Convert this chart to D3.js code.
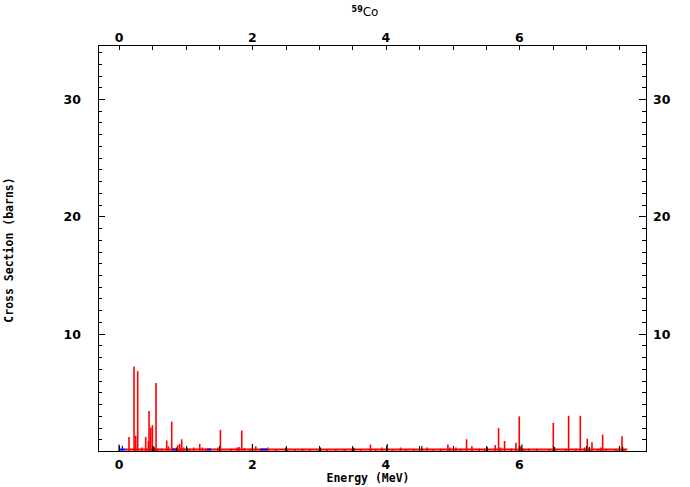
<!DOCTYPE html>
<html>
<head>
  <meta charset="UTF-8">
  <style>
    body { margin: 0; background: #fff; font-family: "DejaVu Sans", sans-serif; }
    .tick-label { font-family: "DejaVu Sans", sans-serif; font-weight: bold; font-size: 12.5px; fill: #000; }
    .axis-title { font-family: "DejaVu Sans Mono", monospace; font-weight: bold; font-size: 11.5px; fill: #000; }
  </style>
</head>
<body>
  <svg></svg>
  <script src="https://d3js.org/d3.v7.min.js"></script>
  <script>
    let width = 690, height = 487;

    // red (main) spikes: energy (MeV) and cross section (barns)
    let redE = [0.15, 0.225, 0.25, 0.28, 0.34, 0.40, 0.44, 0.45, 0.475, 0.50, 0.53, 0.555, 0.58, 0.64, 0.715, 0.74, 0.79,
      0.88, 0.91, 0.94, 0.97, 1.06, 1.12, 1.21, 1.25, 1.30, 1.48, 1.52, 1.68, 1.77, 1.80, 1.84, 1.88, 1.96, 2.05, 2.12,
      2.23, 2.35, 2.52, 2.64, 2.75, 2.86, 3.0, 3.12, 3.25, 3.38, 3.5, 3.62, 3.77, 3.85, 3.94, 4.10, 4.22, 4.30, 4.42,
      4.62, 4.70, 4.82, 4.93, 4.96, 5.05, 5.12, 5.21, 5.29, 5.40, 5.48, 5.64, 5.69, 5.72, 5.78, 5.88, 5.95, 6.0, 6.02,
      6.07, 6.14, 6.26, 6.45, 6.51, 6.70, 6.74, 6.85, 6.915, 6.98, 7.02, 7.09, 7.18, 7.22, 7.25, 7.30, 7.45, 7.50, 7.54, 7.57];
    let redV = [1.2, 7.2, 1.3, 6.8, 0.3, 1.2, 0.85, 3.4, 2.0, 2.2, 0.3, 5.8, 0.2, 0.2, 0.9, 0.4, 2.5,
      0.5, 0.6, 1.0, 0.3, 0.2, 0.3, 0.6, 0.3, 0.2, 0.3, 1.8, 0.2, 0.3, 0.35, 1.75, 0.25, 0.2, 0.4, 0.15,
      0.3, 0.15, 0.2, 0.15, 0.2, 0.15, 0.15, 0.1, 0.15, 0.15, 0.1, 0.15, 0.55, 0.2, 0.3, 0.1, 0.3, 0.15, 0.15,
      0.3, 0.15, 0.2, 0.55, 0.3, 0.3, 0.2, 1.0, 0.4, 0.2, 0.2, 0.5, 1.95, 0.3, 0.85, 0.2, 0.7, 2.95, 0.4,
      0.2, 0.2, 0.2, 0.15, 2.4, 0.15, 3.0, 0.2, 3.0, 0.3, 1.05, 0.75, 0.15, 0.3, 1.4, 0.15, 0.15, 0.3, 1.25, 0.15];
    let redRange = [0.1, 7.62];

    // black spikes
    let blackE = [0.0, 0.52, 0.86, 1.02, 2.0, 2.5, 3.02, 3.52, 4.02, 4.54, 5.52, 6.04, 6.53, 7.05, 7.55];
    let blackV = [0.55, 0.4, 0.3, 0.3, 0.6, 0.3, 0.3, 0.3, 0.6, 0.4, 0.35, 0.55, 0.35, 0.35, 0.35];

    // blue spikes and blue segments along the baseline
    let blueE = [0.05];
    let blueV = [0.45];
    let blueSegStart = [0.0, 0.80, 1.32, 2.12];
    let blueSegEnd = [0.10, 0.85, 1.38, 2.22];

    let xTicks = [0, 2, 4, 6];
    let yTicks = [10, 20, 30];

    let svg = d3.select("svg").attr("width", width).attr("height", height);

    let pLeft = 98, pRight = 646, pTop = 45, pBottom = 451;
    let x = d3.scaleLinear().domain([-0.315, 7.9]).range([pLeft, pRight]);
    let y = d3.scaleLinear().domain([0, 34.6]).range([pBottom, pTop]);

    // baseline red
    svg.append("line")
      .attr("x1", x(redRange[0])).attr("x2", x(redRange[1]))
      .attr("y1", y(0) - 1.5).attr("y2", y(0) - 1.5)
      .attr("stroke", "red").attr("stroke-width", 2);

    let spikes = (E, V, color, w) => {
      svg.append("g").selectAll("line")
        .data(E.map((e, i) => ({e: e, v: V[i]})))
        .enter().append("line")
        .attr("x1", d => x(d.e)).attr("x2", d => x(d.e))
        .attr("y1", y(0)).attr("y2", d => y(d.v))
        .attr("stroke", color).attr("stroke-width", w);
    };
    spikes(redE, redV, "red", 1.6);
    spikes(blackE, blackV, "black", 1.2);
    spikes(blueE, blueV, "blue", 1.2);

    svg.append("g").selectAll("line")
      .data(blueSegStart.map((s, i) => [s, blueSegEnd[i]]))
      .enter().append("line")
      .attr("x1", d => x(d[0])).attr("x2", d => x(d[1]))
      .attr("y1", y(0) - 1.5).attr("y2", y(0) - 1.5)
      .attr("stroke", "blue").attr("stroke-width", 2);

    // frame
    svg.append("rect")
      .attr("x", pLeft + 0.5).attr("y", pTop + 0.5)
      .attr("width", pRight - pLeft).attr("height", pBottom - pTop)
      .attr("fill", "none").attr("stroke", "black").attr("stroke-width", 1);

    // inward ticks
    let xAll = d3.range(0, 7.75, 0.5);
    let yAll = d3.range(1, 34.5, 1);
    let ticks = svg.append("g").attr("stroke", "black").attr("stroke-width", 1);
    xAll.forEach(t => {
      let px = Math.round(x(t)) + 0.5;
      ticks.append("line").attr("x1", px).attr("x2", px).attr("y1", pTop).attr("y2", pTop + 5);
      ticks.append("line").attr("x1", px).attr("x2", px).attr("y1", pBottom).attr("y2", pBottom - 5);
    });
    yAll.forEach(t => {
      let py = Math.round(y(t)) + 0.5;
      let len = t % 10 === 0 ? 7 : 4;
      ticks.append("line").attr("x1", pLeft).attr("x2", pLeft + len).attr("y1", py).attr("y2", py);
      ticks.append("line").attr("x1", pRight).attr("x2", pRight - len).attr("y1", py).attr("y2", py);
    });

    // tick labels
    xTicks.forEach(t => {
      svg.append("text").attr("class", "tick-label").attr("x", x(t)).attr("y", 42)
        .attr("text-anchor", "middle").text(t);
      svg.append("text").attr("class", "tick-label").attr("x", x(t)).attr("y", 469)
        .attr("text-anchor", "middle").text(t);
    });
    yTicks.forEach(t => {
      svg.append("text").attr("class", "tick-label").attr("x", 81).attr("y", y(t) + 5)
        .attr("text-anchor", "end").text(t);
      svg.append("text").attr("class", "tick-label").attr("x", 653).attr("y", y(t) + 5)
        .attr("text-anchor", "start").text(t);
    });

    // titles
    let title = svg.append("text").attr("x", 365).attr("y", 16).attr("text-anchor", "middle")
      .style("font-family", "DejaVu Sans, sans-serif").style("font-size", "12px");
    title.append("tspan").attr("font-size", "8px").attr("font-weight", "bold").attr("dy", -4).text("59");
    title.append("tspan").attr("dy", 4).text("Co");

    svg.append("text").attr("class", "axis-title").attr("x", 368).attr("y", 482)
      .attr("text-anchor", "middle").text("Energy (MeV)");
    svg.append("text").attr("class", "axis-title")
      .attr("transform", "translate(13,250) rotate(-90)")
      .attr("text-anchor", "middle").text("Cross Section (barns)");
  </script>
</body>
</html>
